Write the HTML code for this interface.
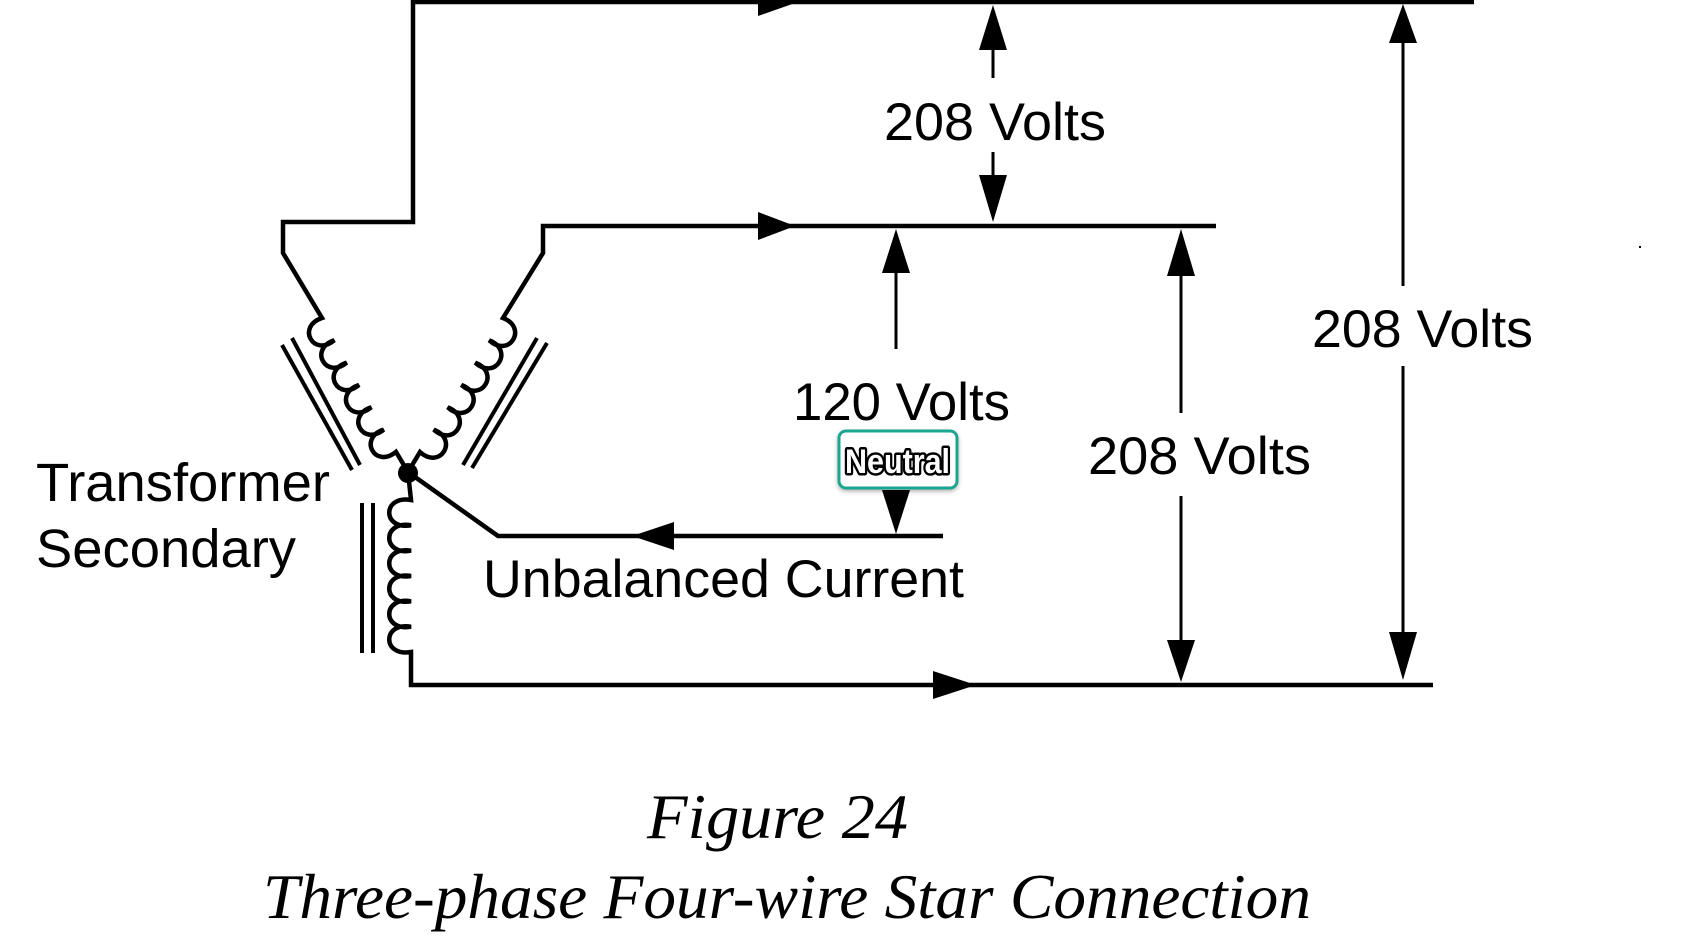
<!DOCTYPE html>
<html><head><meta charset="utf-8"><style>
html,body{margin:0;padding:0;background:#fff;}
svg{display:block;}
.t{font-family:"Liberation Sans",Arial,sans-serif;font-size:53px;fill:#000;}
.c{font-family:"Liberation Serif","Times New Roman",serif;font-style:italic;font-size:64px;fill:#000;}
</style></head><body>
<svg width="1694" height="939" viewBox="0 0 1694 939" xmlns="http://www.w3.org/2000/svg">
<defs>
<filter id="sh" x="-20%" y="-20%" width="140%" height="150%"><feDropShadow dx="0" dy="2" stdDeviation="2" flood-color="#000" flood-opacity="0.3"/></filter>
</defs>
<g fill="none" stroke="#000" stroke-width="4.5" stroke-linejoin="miter" stroke-linecap="butt">
<!-- top wire & left arm -->
<path d="M1474 2 L413 2 L413 222 L283 222 L283 253 L322 318
C296.2 326.5 313.3 357.6 334.3 340.3
C308.5 348.8 325.7 379.9 346.7 362.6
C320.9 371.1 338.0 402.3 359.0 385.0
C333.2 393.5 350.3 424.6 371.3 407.3
C345.5 415.8 362.7 446.9 383.7 429.6
C357.9 438.1 375.0 469.2 396.0 451.9 L408 472"/>
<!-- middle wire & right arm -->
<path d="M1216 226 L543 226 L543 253 L503 318
C528.3 327.8 509.2 358.6 489.2 340.3
C514.5 350.1 495.4 381.0 475.3 362.7
C500.7 372.5 481.6 403.3 461.5 385
C486.8 394.8 467.7 425.6 447.7 407.3
C473.0 417.1 453.9 448.0 433.8 429.7
C459.2 439.5 440.1 470.3 420 452 L408 472"/>
<!-- bottom coil & wire -->
<path d="M408 472 L411 500
C382 495 382 530.3 411 525.3
C382 520.3 382 555.7 411 550.7
C382 545.7 382 581 411 576
C382 571 382 606.3 411 601.3
C382 596.3 382 631.7 411 626.7
C382 621.7 382 657 411 652
L411 685 L1433 685"/>
<!-- neutral -->
<path d="M408 472 L498 536 L943 536"/>
</g>
<!-- cores -->
<g stroke="#000" stroke-width="4">
<line x1="292" y1="338" x2="360" y2="465"/>
<line x1="282" y1="345" x2="352" y2="470"/>
<line x1="537" y1="338" x2="463" y2="465"/>
<line x1="547" y1="343" x2="472" y2="468"/>
<line x1="362" y1="503" x2="362" y2="653"/>
<line x1="373" y1="503" x2="373" y2="653"/>
</g>
<circle cx="408" cy="473" r="10" fill="#000"/>
<!-- flow arrows -->
<g fill="#000">
<polygon points="758,-12 798,2 758,16"/>
<polygon points="758,212 795,226 758,240"/>
<polygon points="674,522 632,536 674,550"/>
<polygon points="933,671 976,685 933,699"/>
</g>
<!-- dimension lines -->
<g stroke="#000" stroke-width="3">
<line x1="993" y1="48" x2="993" y2="78"/>
<line x1="993" y1="152" x2="993" y2="177"/>
<line x1="896" y1="271" x2="896" y2="349"/>
<line x1="1181" y1="274" x2="1181" y2="413"/>
<line x1="1181" y1="496" x2="1181" y2="642"/>
<line x1="1403" y1="41" x2="1403" y2="286"/>
<line x1="1403" y1="366" x2="1403" y2="634"/>
</g>
<g fill="#000">
<polygon points="993,5 979,50 1007,50"/>
<polygon points="993,222 979,175 1007,175"/>
<polygon points="896,229 882,273 910,273"/>
<polygon points="896,534 882,490 910,490"/>
<polygon points="1181,229 1167,276 1195,276"/>
<polygon points="1181,682 1167,640 1195,640"/>
<polygon points="1403,4 1389,43 1417,43"/>
<polygon points="1403,680 1389,632 1417,632"/>
</g>
<rect x="1639" y="246" width="2" height="2" fill="#000"/>
<!-- labels -->
<text class="t" x="884" y="140" textLength="222" lengthAdjust="spacingAndGlyphs">208 Volts</text>
<text class="t" x="793" y="420" textLength="217" lengthAdjust="spacingAndGlyphs">120 Volts</text>
<text class="t" x="1088" y="474" textLength="223" lengthAdjust="spacingAndGlyphs">208 Volts</text>
<text class="t" x="1312" y="347" textLength="221" lengthAdjust="spacingAndGlyphs">208 Volts</text>
<text class="t" x="36" y="501" style="font-size:54px" textLength="294" lengthAdjust="spacingAndGlyphs">Transformer</text>
<text class="t" x="36" y="567" style="font-size:54px" textLength="260" lengthAdjust="spacingAndGlyphs">Secondary</text>
<text class="t" x="483" y="597" textLength="481" lengthAdjust="spacingAndGlyphs">Unbalanced Current</text>
<!-- neutral badge -->
<rect x="839" y="431" width="118" height="57" rx="7" ry="7" fill="#fff" stroke="#1fa68f" stroke-width="3" filter="url(#sh)"/>
<text x="845" y="473" textLength="105" lengthAdjust="spacingAndGlyphs" style="font-family:'Liberation Sans',Arial,sans-serif;font-weight:bold;font-size:34px;fill:#fff;stroke:#000;stroke-width:5;paint-order:stroke;stroke-linejoin:round">Neutral</text>
<!-- caption -->
<text class="c" x="647" y="838" textLength="261" lengthAdjust="spacingAndGlyphs">Figure 24</text>
<text class="c" x="263" y="918" textLength="1048" lengthAdjust="spacingAndGlyphs">Three-phase Four-wire Star Connection</text>
</svg>
</body></html>
